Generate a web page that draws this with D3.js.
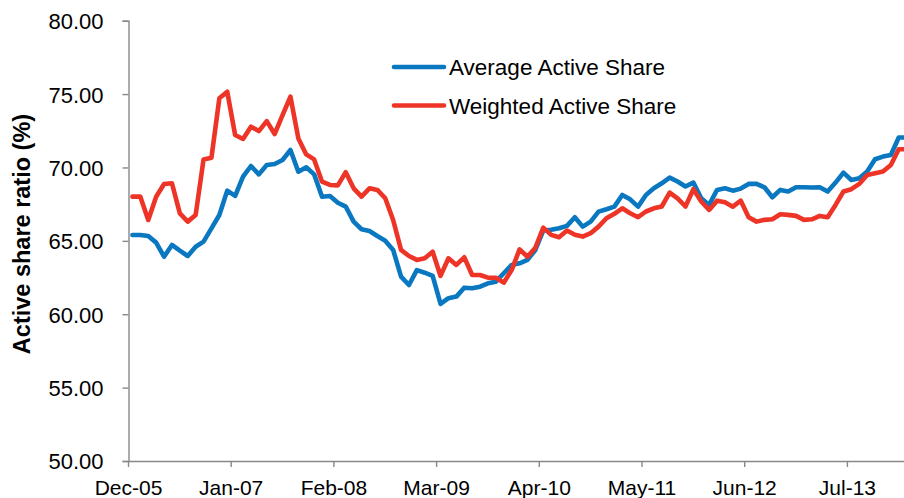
<!DOCTYPE html>
<html>
<head>
<meta charset="utf-8">
<script src="https://cdn.jsdelivr.net/npm/d3@7"></script>
<style>
  html, body { margin: 0; padding: 0; background: #fff; }
  svg { display: block; font-family: "Liberation Sans", Arial, sans-serif; }
</style>
</head>
<body>
<svg id="chart" width="904" height="498"></svg>
<script>
const months = [
  "Dec-05",
  "Jan-06","Feb-06","Mar-06","Apr-06","May-06","Jun-06","Jul-06","Aug-06","Sep-06","Oct-06","Nov-06","Dec-06",
  "Jan-07","Feb-07","Mar-07","Apr-07","May-07","Jun-07","Jul-07","Aug-07","Sep-07","Oct-07","Nov-07","Dec-07",
  "Jan-08","Feb-08","Mar-08","Apr-08","May-08","Jun-08","Jul-08","Aug-08","Sep-08","Oct-08","Nov-08","Dec-08",
  "Jan-09","Feb-09","Mar-09","Apr-09","May-09","Jun-09","Jul-09","Aug-09","Sep-09","Oct-09","Nov-09","Dec-09",
  "Jan-10","Feb-10","Mar-10","Apr-10","May-10","Jun-10","Jul-10","Aug-10","Sep-10","Oct-10","Nov-10","Dec-10",
  "Jan-11","Feb-11","Mar-11","Apr-11","May-11","Jun-11","Jul-11","Aug-11","Sep-11","Oct-11","Nov-11","Dec-11",
  "Jan-12","Feb-12","Mar-12","Apr-12","May-12","Jun-12","Jul-12","Aug-12","Sep-12","Oct-12","Nov-12","Dec-12",
  "Jan-13","Feb-13","Mar-13","Apr-13","May-13","Jun-13","Jul-13","Aug-13","Sep-13","Oct-13","Nov-13","Dec-13",
  "Jan-14","Feb-14"
];

const averageActiveShare = [
  65.40,65.40,65.33,64.88,63.92,64.72,64.33,63.97,64.60,64.95,
  65.85,66.76,68.42,68.06,69.37,70.10,69.53,70.17,70.24,70.51,
  71.19,69.71,70.01,69.53,68.01,68.06,67.60,67.33,66.31,65.79,
  65.67,65.33,65.01,64.38,62.56,61.99,63.01,62.83,62.61,60.70,
  61.09,61.20,61.81,61.77,61.88,62.11,62.22,62.79,63.36,63.47,
  63.70,64.38,65.70,65.75,65.86,66.02,66.61,65.97,66.31,66.99,
  67.15,67.33,68.13,67.83,67.33,68.13,68.58,68.92,69.31,69.04,
  68.70,68.97,67.90,67.45,68.47,68.58,68.42,68.56,68.88,68.88,
  68.65,67.97,68.47,68.36,68.65,68.65,68.63,68.65,68.36,68.97,
  69.65,69.15,69.27,69.72,70.56,70.74,70.85,72.04,72.04
];

const weightedActiveShare = [
  68.01,68.01,66.42,68.00,68.87,68.92,66.87,66.31,66.76,70.55,
  70.67,74.71,75.16,72.21,71.94,72.78,72.48,73.16,72.28,73.57,
  74.82,71.98,70.89,70.55,69.03,68.81,68.78,69.68,68.58,68.01,
  68.58,68.47,67.90,66.42,64.38,63.97,63.70,63.81,64.26,62.61,
  63.81,63.36,63.88,62.67,62.67,62.49,62.49,62.15,63.01,64.42,
  63.92,64.53,65.90,65.41,65.25,65.70,65.41,65.29,65.52,65.97,
  66.54,66.84,67.22,66.88,66.61,67.00,67.22,67.34,68.29,67.90,
  67.34,68.52,67.68,67.11,67.74,67.63,67.33,67.74,66.61,66.31,
  66.43,66.47,66.81,66.77,66.70,66.43,66.47,66.70,66.61,67.45,
  68.36,68.52,68.88,69.49,69.61,69.72,70.17,71.24,71.24
];

const tickLabels = ["Dec-05","Jan-07","Feb-08","Mar-09","Apr-10","May-11","Jun-12","Jul-13"];
const yTicks = [50, 55, 60, 65, 70, 75, 80];
const seriesNames = ["Average Active Share", "Weighted Active Share"];
const seriesColors = ["#0a78c0", "#ee3427"];

const svg = d3.select("#chart");
const plotLeft = 128.5, plotTop = 20.7, plotBottom = 461, monthStep = 7.9;
const plotRight = plotLeft + monthStep * months.length;

const x = d3.scaleBand().domain(months).range([plotLeft, plotRight]).padding(0);
const y = d3.scaleLinear().domain([50, 80]).range([plotBottom, plotTop]);

const axisColor = "#888888";

// Y axis
const yAxis = svg.append("g")
  .attr("transform", `translate(${plotLeft},0)`)
  .call(d3.axisLeft(y).tickValues(yTicks).tickSize(6).tickPadding(19).tickFormat(d3.format(".2f")));
yAxis.select(".domain").attr("stroke", axisColor).attr("stroke-width", 1.4);
yAxis.selectAll(".tick line").attr("stroke", axisColor).attr("stroke-width", 1.4);
yAxis.selectAll(".tick text").attr("font-size", 22).attr("fill", "#000")
  .attr("font-family", "Liberation Sans, Arial, sans-serif").attr("dy", "0.36em");

// X axis
const xAxis = svg.append("g")
  .attr("transform", `translate(0,${plotBottom})`)
  .call(d3.axisBottom(x).tickValues(tickLabels).tickSize(6).tickPadding(12).tickSizeOuter(0));
xAxis.selectAll(".tick").attr("transform", d => `translate(${x(d)},0)`);
xAxis.select(".domain").attr("stroke", axisColor).attr("stroke-width", 1.4);
xAxis.selectAll(".tick line").attr("stroke", axisColor).attr("stroke-width", 1.4);
xAxis.selectAll(".tick text").attr("font-size", 21).attr("fill", "#000")
  .attr("font-family", "Liberation Sans, Arial, sans-serif").attr("dy", "0.75em");

// Y axis title
svg.append("text")
  .attr("transform", `translate(30,234) rotate(-90)`)
  .attr("text-anchor", "middle")
  .attr("font-size", 23.5)
  .attr("font-weight", "bold")
  .attr("fill", "#000")
  .text("Active share ratio (%)");

// Lines
const line = d3.line()
  .x((d, i) => x(months[i]) + x.bandwidth() / 2)
  .y(d => y(d));

[averageActiveShare, weightedActiveShare].forEach((data, k) => {
  svg.append("path")
    .datum(data)
    .attr("fill", "none")
    .attr("stroke", seriesColors[k])
    .attr("stroke-width", 4.6)
    .attr("stroke-linejoin", "round")
    .attr("stroke-linecap", "round")
    .attr("d", line);
});

// Legend
const legend = svg.append("g").attr("transform", "translate(394,0)");
seriesNames.forEach((name, k) => {
  const ly = 67 + k * 38.5;
  legend.append("line")
    .attr("x1", 0).attr("x2", 50)
    .attr("y1", ly).attr("y2", ly)
    .attr("stroke", seriesColors[k])
    .attr("stroke-width", 4.6)
    .attr("stroke-linecap", "round");
  legend.append("text")
    .attr("x", 55).attr("y", ly + 8)
    .attr("font-size", 22.5)
    .attr("fill", "#000")
    .text(name);
});
</script>
</body>
</html>
